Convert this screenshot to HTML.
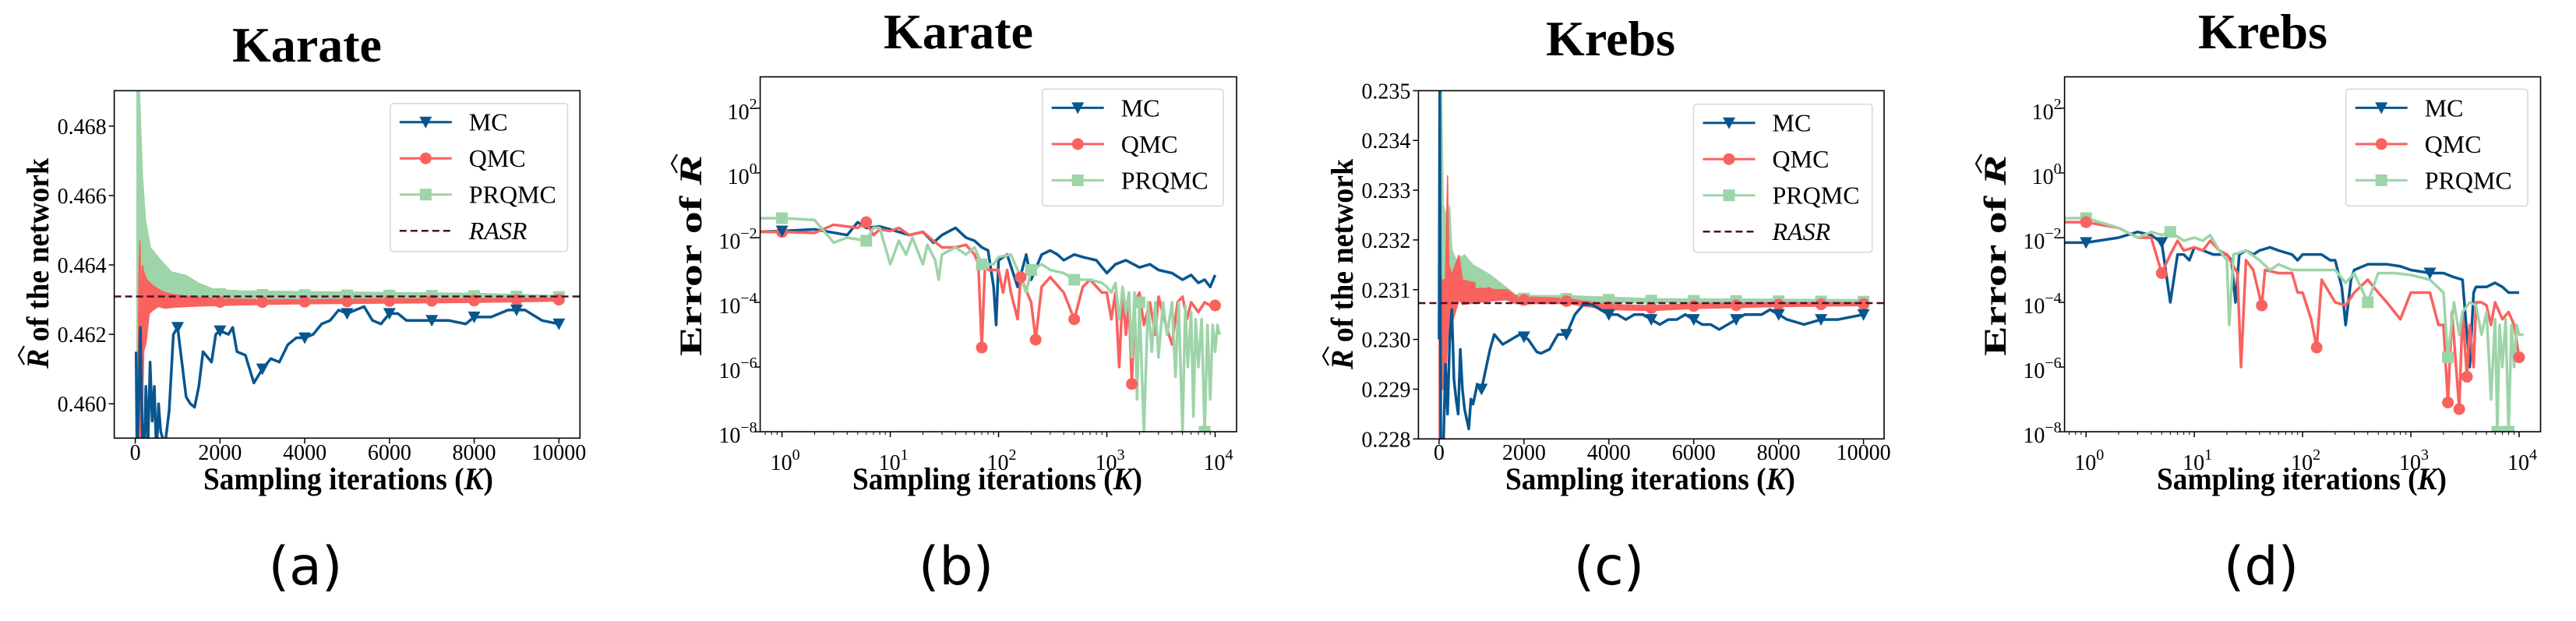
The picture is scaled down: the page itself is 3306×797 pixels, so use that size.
<!DOCTYPE html>
<html><head><meta charset="utf-8">
<style>
html,body{margin:0;padding:0;background:#fff;}
svg{display:block;}
text{font-family:"Liberation Serif",serif;fill:#000;}
.sub{font-family:"DejaVu Sans","Liberation Sans",sans-serif;}
</style></head>
<body>
<svg id="fig" width="3306" height="797" viewBox="0 0 3306 797" xmlns="http://www.w3.org/2000/svg"></svg>
<script>
// ---------- Panel (a) Karate, linear ----------
const mcA = [[20,0.4615],[40,0.4585],[80,0.4600],[120,0.4622],[160,0.4595],[200,0.4580],[250,0.4605],[300,0.4588],[350,0.4612],[400,0.4595],[450,0.4605],[500,0.4585],[550,0.4600],[600,0.4592],[700,0.4588],[800,0.4598],[900,0.4620],[1000,0.4622],[1100,0.4612],[1200,0.4602],[1300,0.4600],[1400,0.4599],[1500,0.4605],[1600,0.4615],[1800,0.4612],[1900,0.4620],[2000,0.4621],[2200,0.4620],[2300,0.4622],[2400,0.4615],[2600,0.4614],[2800,0.4606],[3000,0.4610],[3200,0.4613],[3400,0.4612],[3600,0.4617],[3800,0.4619],[4000,0.4619],[4200,0.4620],[4400,0.4623],[4600,0.4624],[4800,0.4627],[5000,0.4626],[5200,0.4627],[5400,0.4628],[5600,0.4624],[5800,0.4623],[6000,0.4626],[6200,0.4626],[6400,0.4624],[6600,0.4624],[7000,0.4624],[7400,0.4624],[7800,0.4623],[8000,0.4625],[8400,0.4625],[8800,0.4627],[9200,0.4627],[9600,0.4624],[10000,0.4623]];
const qmcBandA = [[60,0.4590,0.4600],[90,0.4590,0.4640],[110,0.4590,0.4647],[140,0.4590,0.4630],[170,0.4594,0.4640],[200,0.4615,0.4638],[260,0.4618,0.4636],[330,0.4626,0.4635],[420,0.4627,0.4634],[550,0.4628,0.4633],[700,0.46275,0.4632],[900,0.46278,0.46315],[1200,0.4628,0.4631],[1600,0.46282,0.46305],[2200,0.46284,0.46302],[3000,0.46286,0.46300],[4000,0.46288,0.46300],[6000,0.46290,0.46302],[8000,0.46292,0.46303],[10000,0.46296,0.46304]];
const prqmcBandA = [[40,0.4590,0.4690],[100,0.4625,0.4690],[130,0.4628,0.4679],[170,0.4630,0.46656],[240,0.4632,0.4653],[360,0.4632,0.4645],[600,0.4631,0.46414],[850,0.46305,0.4638],[1200,0.46305,0.4637],[1500,0.46305,0.46347],[1850,0.46303,0.4633],[2500,0.46303,0.46325],[5000,0.46303,0.46322],[8000,0.46303,0.46318],[10000,0.46303,0.46312]];
const rasrA = 0.46309;
const yTicksA = [0.460,0.462,0.464,0.466,0.468];
const yTickLabelsA = ["0.460","0.462","0.464","0.466","0.468"];

// ---------- Panel (c) Krebs, linear ----------
const mcC = [[0,0.2300],[15,0.2350],[40,0.2280],[100,0.2278],[150,0.2295],[200,0.2285],[250,0.2300],[300,0.2306],[350,0.2292],[400,0.2288],[450,0.2285],[500,0.2298],[550,0.2290],[600,0.2286],[650,0.2284],[700,0.2282],[750,0.2288],[800,0.2287],[900,0.2291],[1000,0.2290],[1100,0.2294],[1200,0.2298],[1300,0.2301],[1400,0.2300],[1500,0.2299],[1700,0.2300],[1900,0.2301],[2100,0.2300],[2300,0.22975],[2400,0.22972],[2600,0.2298],[2800,0.2301],[3000,0.2301],[3200,0.2305],[3400,0.2307],[3600,0.2307],[3800,0.2306],[4000,0.2305],[4200,0.2305],[4400,0.2304],[4600,0.2305],[4800,0.2305],[5000,0.2304],[5200,0.2303],[5400,0.2304],[5600,0.2304],[5800,0.2305],[6000,0.2304],[6200,0.2303],[6400,0.2303],[6600,0.2302],[6800,0.2303],[7000,0.2304],[7200,0.2305],[7600,0.2305],[7800,0.2306],[8000,0.2305],[8200,0.2304],[8600,0.2303],[9000,0.2304],[9400,0.2304],[10000,0.2305]];
const qmcBandC = [[0,0.2280,0.2300],[40,0.2280,0.2300],[60,0.2290,0.2312],[150,0.2290,0.2312],[200,0.2300,0.2333],[230,0.2300,0.2315],[300,0.2303,0.2313],[470,0.2308,0.2317],[550,0.2307,0.2312],[1000,0.23075,0.2311],[1300,0.23078,0.2310],[1600,0.2308,0.2310],[1800,0.23072,0.23088],[2200,0.23072,0.23085],[3000,0.23072,0.23082],[4000,0.2306,0.2307],[5000,0.23058,0.23068],[6000,0.23062,0.23072],[8000,0.23066,0.23074],[10000,0.23068,0.23074]];
const prqmcBandC = [[20,0.2300,0.2350],[60,0.2300,0.2350],[100,0.2307,0.2327],[200,0.2308,0.2324],[250,0.2308,0.2327],[300,0.2308,0.2318],[400,0.2308,0.2316],[600,0.2309,0.2317],[800,0.2309,0.2315],[1000,0.2309,0.2314],[1200,0.2309,0.2313],[1500,0.2308,0.2311],[1800,0.23075,0.2309],[2200,0.23075,0.23088],[3000,0.23075,0.23088],[5000,0.23074,0.23082],[10000,0.23072,0.2308]];
const rasrC = 0.23073;
const yTicksC = [0.228,0.229,0.230,0.231,0.232,0.233,0.234,0.235];
const yTickLabelsC = ["0.228","0.229","0.230","0.231","0.232","0.233","0.234","0.235"];

const xTicksLin = [0,2000,4000,6000,8000,10000];
const xTickLabelsLin = ["0","2000","4000","6000","8000","10000"];

// ---------- Panel (b) Karate error, log-log ----------
const mcB = [[0.6,0.015],[1,0.016],[2,0.018],[4,0.012],[5,0.03],[6,0.02],[8,0.022],[10,0.018],[15,0.012],[20,0.015],[25,0.007],[30,0.012],[40,0.02],[50,0.01],[60,0.008],[70,0.005],[80,0.004],[90,0.0003],[95,0.00002],[100,0.002],[120,0.003],[150,0.0003],[180,0.003],[200,0.0005],[250,0.003],[300,0.004],[350,0.003],[400,0.002],[500,0.003],[600,0.0025],[800,0.002],[1000,0.0008],[1200,0.0015],[1500,0.002],[2000,0.0012],[2500,0.0015],[3000,0.001],[4000,0.0008],[5000,0.0005],[6000,0.0007],[7000,0.0004],[8000,0.0005],[9000,0.0003],[10000,0.0007]];
const qmcB = [[0.6,0.015],[1,0.015],[2,0.014],[3,0.025],[5,0.02],[6,0.03],[7,0.012],[8,0.018],[10,0.016],[12,0.02],[15,0.012],[20,0.015],[25,0.008],[30,0.005],[40,0.005],[50,0.006],[60,0.003],[65,0.0015],[70,0.000004],[75,0.0015],[80,0.001],[100,0.001],[110,0.0002],[120,0.001],[130,0.0002],[150,0.00003],[160,0.0006],[200,0.0001],[220,0.000007],[250,0.0003],[300,0.0006],[400,0.0002],[500,0.00003],[600,0.0003],[700,0.0005],[900,0.0002],[1000,0.0002],[1100,0.00003],[1200,0.0002],[1300,0.000001],[1400,0.0002],[1500,0.00001],[1600,0.0001],[1700,0.0000003],[1800,0.0001],[2000,0.0002],[2200,0.00002],[2500,0.0001],[2800,0.00001],[3000,0.00015],[3500,0.00002],[4000,0.000005],[4500,0.0001],[5000,0.00015],[5500,0.00003],[6000,0.0001],[7000,0.00005],[8000,0.0001],[9000,0.00008],[10000,0.00008]];
const prqmcB = [[0.6,0.04],[1,0.04],[2,0.035],[3,0.007],[4,0.01],[6,0.008],[7,0.02],[8,0.02],[9,0.005],[10,0.0015],[12,0.008],[14,0.003],[16,0.01],[20,0.0015],[22,0.006],[26,0.002],[28,0.0005],[30,0.003],[40,0.005],[50,0.003],[60,0.005],[70,0.0015],[90,0.0015],[100,0.0025],[130,0.003],[150,0.001],[180,0.0002],[200,0.001],[250,0.0015],[300,0.001],[400,0.0008],[500,0.0005],[700,0.0005],[900,0.0004],[1000,0.0003],[1100,0.0002],[1200,0.0004],[1300,0.00003],[1400,0.0003],[1500,0.00005],[1600,0.0002],[1700,0.000002],[1800,0.0002],[1900,0.0000001],[2000,0.0001],[2200,0.00000001],[2400,0.0001],[2600,0.000003],[2800,0.0001],[3000,0.000002],[3300,0.0001],[3600,0.00001],[4000,0.0001],[4300,0.0000005],[4600,0.0001],[5000,0.00000001],[5300,0.00008],[5600,0.000001],[6000,0.00005],[6300,0.00000003],[6600,0.00003],[7000,0.000001],[7500,0.00003],[8000,0.00000001],[8500,0.00002],[9000,0.0000001],[9500,0.00002],[10000,0.000003],[10500,0.00002],[11000,0.00001]];
const mcMarksB = [1];
const qmcMarksB = [1,6,70,160,220,500,1700,10000];
const prqmcMarksB = [1,6,70,200,500,2000,8000];

// ---------- Panel (d) Krebs error, log-log ----------
const mcD = [[0.6,0.007],[1,0.007],[2,0.01],[3,0.015],[4,0.012],[5,0.007],[6,0.0001],[7,0.003],[8,0.003],[9,0.002],[10,0.005],[12,0.004],[15,0.003],[20,0.003],[22,0.002],[24,0.0001],[26,0.003],[30,0.004],[35,0.003],[40,0.004],[50,0.005],[60,0.004],[80,0.003],[90,0.002],[100,0.003],[120,0.003],[150,0.003],[180,0.002],[200,0.002],[230,0.0003],[250,0.00002],[280,0.0005],[300,0.001],[400,0.0015],[500,0.0015],[600,0.0015],[800,0.0013],[1000,0.001],[1500,0.0008],[2000,0.0008],[2500,0.0006],[3000,0.0005],[3300,0.00001],[3500,0.000001],[3800,0.0002],[4000,0.0003],[5000,0.0003],[6000,0.0004],[7000,0.0003],[8000,0.0002],[10000,0.0002]];
const qmcD = [[0.6,0.03],[1,0.03],[2,0.02],[3,0.01],[4,0.01],[5,0.0008],[6,0.003],[7,0.008],[8,0.004],[10,0.005],[12,0.004],[14,0.008],[17,0.004],[20,0.003],[25,0.0008],[27,0.000001],[30,0.002],[35,0.001],[42,0.00008],[45,0.001],[60,0.0008],[80,0.0008],[90,0.0002],[100,0.0002],[120,0.00003],[135,0.000004],[150,0.0005],[200,0.0001],[250,0.00008],[300,0.0002],[400,0.0005],[500,0.0002],[600,0.0001],[800,0.00003],[1000,0.0002],[1500,0.0002],[1800,0.00002],[2000,0.00002],[2200,0.00000008],[2400,0.00005],[2800,0.00000005],[3000,0.00005],[3300,0.0000005],[3500,0.00002],[3800,0.000001],[4000,0.0001],[4500,0.0001],[5000,0.00008],[5500,0.00002],[6000,0.0001],[7000,0.00003],[8000,0.00005],[9000,0.00002],[10000,0.000002]];
const prqmcD = [[0.6,0.04],[1,0.04],[2,0.02],[3,0.01],[4,0.015],[5,0.012],[6,0.015],[8,0.008],[10,0.01],[12,0.008],[14,0.012],[17,0.004],[20,0.002],[21,0.00002],[23,0.003],[30,0.004],[40,0.002],[50,0.001],[60,0.0015],[80,0.001],[100,0.001],[150,0.001],[200,0.001],[250,0.0004],[300,0.0008],[400,0.0001],[500,0.0008],[700,0.0008],[1000,0.0007],[1500,0.0005],[2000,0.0002],[2200,0.000002],[2500,0.0001],[2800,0.00001],[3000,0.00005],[3500,0.0001],[4000,0.00008],[4500,0.00001],[5000,0.00005],[5500,0.0000001],[6000,0.00003],[6300,0.00000001],[6600,0.00002],[7000,0.000001],[7500,0.00003],[8000,0.00000001],[8500,0.00002],[9000,0.000001],[9500,0.00002],[10000,0.00001],[11000,0.00001]];
const mcMarksD = [1,5,1500];
const qmcMarksD = [1,5,42,135,2200,2800,3300,10000];
const prqmcMarksD = [1,6,400,2200,6300,8000];

const yTickExpLog = [-8,-6,-4,-2,0,2];
const xTickExpLog = [0,1,2,3,4];

const C_MC="#08568f", C_QMC="#f9625e", C_PR="#9dd4a8", C_RASR="#4b1130";
const NS="http://www.w3.org/2000/svg";
const svg=document.getElementById('fig');
function el(tag,attrs,parent){const e=document.createElementNS(NS,tag);for(const k in attrs)e.setAttribute(k,attrs[k]);(parent||svg).appendChild(e);return e;}

let clipId=0;
function makeAxes(cfg){
  const g=el('g',{});
  
  
  const {L,R,T,B}=cfg;
  const sx = cfg.logx ? v=>L+(Math.log10(v)-cfg.x0)/(cfg.x1-cfg.x0)*(R-L) : v=>L+(v-cfg.x0)/(cfg.x1-cfg.x0)*(R-L);
  const sy = cfg.logy ? v=>B-(Math.log10(v)-cfg.y0)/(cfg.y1-cfg.y0)*(B-T) : v=>B-(v-cfg.y0)/(cfg.y1-cfg.y0)*(B-T);
  const id='clip'+(clipId++);
  const defs=el('defs',{},g);
  const cp=el('clipPath',{id:id},defs);
  el('rect',{x:L,y:T,width:R-L,height:B-T},cp);
  const plot=el('g',{'clip-path':'url(#'+id+')'},g);
  
  
  return {g,plot,sx,sy};
}

function drawLine(parent,pts,sx,sy,color,w,name){
  const d=pts.map((p,i)=>(i?'L':'M')+sx(p[0]).toFixed(2)+' '+sy(p[1]).toFixed(2)).join(' ');
  const p=el('path',{d:d,fill:'none',stroke:color,'stroke-width':w,'stroke-linejoin':'round'},parent);
  
  
}
function drawBand(parent,band,sx,sy,color,name){
  let d='M'+band.map(b=>sx(b[0]).toFixed(2)+' '+sy(b[2]).toFixed(2)).join(' L');
  d+=' L'+band.slice().reverse().map(b=>sx(b[0]).toFixed(2)+' '+sy(b[1]).toFixed(2)).join(' L')+' Z';
  const p=el('path',{d:d,fill:color,stroke:color,'stroke-width':1.5},parent);
  
  
}
function marker(parent,type,x,y,color,name){
  let m;
  if(type==='tri') m=el('path',{d:`M${x-8} ${y-7} L${x+8} ${y-7} L${x} ${y+8} Z`,fill:color},parent);
  else if(type==='circ') m=el('circle',{cx:x,cy:y,r:7.5,fill:color},parent);
  else m=el('rect',{x:x-7.5,y:y-7.5,width:15,height:15,fill:color},parent);
  
  
}
function interp(pts,x){
  for(let i=1;i<pts.length;i++){ if(x<=pts[i][0]){const a=pts[i-1],b=pts[i];const t=(x-a[0])/(b[0]-a[0]);return a[1]+t*(b[1]-a[1]);} }
  return pts[pts.length-1][1];
}
function interpLog(pts,x){
  for(let i=0;i<pts.length;i++){ if(Math.abs(pts[i][0]-x)<1e-9) return pts[i][1]; }
  for(let i=1;i<pts.length;i++){ if(x<=pts[i][0]){const a=pts[i-1],b=pts[i];const t=(Math.log10(x)-Math.log10(a[0]))/(Math.log10(b[0])-Math.log10(a[0]));return Math.pow(10,Math.log10(a[1])+t*(Math.log10(b[1])-Math.log10(a[1])));} }
  return pts[pts.length-1][1];
}

function frame(g,cfg){
  const r=el('rect',{x:cfg.L,y:cfg.T,width:cfg.R-cfg.L,height:cfg.B-cfg.T,fill:'none',stroke:'#000','stroke-width':1.6},g);
  
  
}
function texts(g,cfg){
  const t=el('text',{x:cfg.titleX,y:cfg.titleY,'text-anchor':'middle','font-size':64,'font-weight':'bold'},g);
  t.textContent=cfg.title;
  
  
  const xl=el('text',{x:cfg.xlabX,y:628,'text-anchor':'middle','font-size':40,'font-weight':'bold',textLength:372,lengthAdjust:'spacingAndGlyphs'},g);
  xl.innerHTML='Sampling iterations (<tspan font-style="italic">K</tspan>)';
  
  
  const yg=el('g',{transform:`translate(${cfg.ylabX},${cfg.ylabY}) rotate(-90)`},g);
  
  
  const len = cfg.logy ? 258 : 270;
  const yl=el('text',{x:0,y:0,'text-anchor':'middle','font-size':40,'font-weight':'bold',textLength:len,lengthAdjust:'spacingAndGlyphs'},yg);
  let hx;
  if(cfg.logy){ yl.innerHTML='Error of <tspan font-style="italic">R</tspan>'; hx=len/2-12; }
  else { yl.innerHTML='<tspan font-style="italic">R</tspan> of the network'; hx=-len/2+16; }
  el('path',{d:`M${hx-11} -31 L${hx+1} -38 L${hx+13} -31`,fill:'none',stroke:'#000','stroke-width':2.2},yg);
  const sub=el('text',{x:cfg.subX,y:750,'text-anchor':'middle','font-size':68,class:'sub'},g);
  sub.textContent=cfg.sub;
  
  
}
function legend(g,x,y,w,h,entries){
  const lg=el('g',{},g);
  
  
  el('rect',{x:x,y:y,width:w,height:h,rx:4,fill:'#fff','fill-opacity':0.8,stroke:'#d6d6d6','stroke-width':1.5},lg);
  entries.forEach((e,i)=>{
    const ey=y+24+i*46.5;
    const eg=el('g',{},lg);
    
    
    el('line',{x1:x+12,y1:ey,x2:x+79,y2:ey,stroke:e.color,'stroke-width':e.dash?2.5:3,'stroke-dasharray':e.dash?'9,5':'none'},eg);
    if(e.m) marker(eg,e.m,x+45.5,ey,e.color,'legend-marker');
    const t=el('text',{x:x+101,y:ey+11,'font-size':32,'font-style':e.dash?'italic':'normal'},eg);
    t.textContent=e.label;
  });
}

function linearPanel(cfg,mc,qmcBand,prBand,rasr,yTicks,yLabels){
  const {g,plot,sx,sy}=makeAxes(cfg);
  drawBand(plot,prBand,sx,sy,C_PR,'prqmc-band');
  drawBand(plot,qmcBand,sx,sy,C_QMC,'qmc-band');
  drawLine(plot,mc,sx,sy,C_MC,3.5,'mc-line');
  for(let k=1000;k<=10000;k+=1000){
    marker(plot,'sq',sx(k),sy(interp(prBand.map(b=>[b[0],(b[1]+b[2])/2]),k)),C_PR,'prqmc-marker');
    marker(plot,'circ',sx(k),sy(interp(qmcBand.map(b=>[b[0],(b[1]+b[2])/2]),k)),C_QMC,'qmc-marker');
    marker(plot,'tri',sx(k),sy(interp(mc,k)),C_MC,'mc-marker');
  }
  const rl=el('line',{x1:cfg.L,x2:cfg.R,y1:sy(rasr),y2:sy(rasr),stroke:C_RASR,'stroke-width':2.5,'stroke-dasharray':'9,5'},plot);
  
  
  frame(g,cfg);
  xTicksLin.forEach((v,i)=>{
    const x=sx(v);
    el('line',{x1:x,x2:x,y1:cfg.B,y2:cfg.B+7,stroke:'#000','stroke-width':1.5},g);
    const t=el('text',{x:x,y:590,'text-anchor':'middle','font-size':28},g);
    t.textContent=xTickLabelsLin[i];
    
    
  });
  yTicks.forEach((v,i)=>{
    const y=sy(v);
    el('line',{x1:cfg.L-7,x2:cfg.L,y1:y,y2:y,stroke:'#000','stroke-width':1.5},g);
    const t=el('text',{x:cfg.L-10,y:y+10,'text-anchor':'end','font-size':28},g);
    t.textContent=yLabels[i];
    
    
  });
  legend(g,cfg.lgX,cfg.lgY,cfg.lgW,190,[{label:'MC',color:C_MC,m:'tri'},{label:'QMC',color:C_QMC,m:'circ'},{label:'PRQMC',color:C_PR,m:'sq'},{label:'RASR',color:C_RASR,dash:true}]);
  texts(g,cfg);
}

function logPanel(cfg,mc,qmc,pr,mcM,qmcM,prM){
  const {g,plot,sx,sy}=makeAxes(cfg);
  drawLine(plot,mc,sx,sy,C_MC,3.5,'mc-line');
  drawLine(plot,qmc,sx,sy,C_QMC,3.5,'qmc-line');
  drawLine(plot,pr,sx,sy,C_PR,3.5,'prqmc-line');
  prM.forEach(x=>marker(plot,'sq',sx(x),sy(interpLog(pr,x)),C_PR,'prqmc-marker'));
  qmcM.forEach(x=>marker(plot,'circ',sx(x),sy(interpLog(qmc,x)),C_QMC,'qmc-marker'));
  mcM.forEach(x=>marker(plot,'tri',sx(x),sy(interpLog(mc,x)),C_MC,'mc-marker'));
  frame(g,cfg);
  for(let e=-1;e<=4;e++){
    for(let m=2;m<=9;m++){
      const v=m*Math.pow(10,e); const lv=Math.log10(v);
      if(lv<cfg.x0||lv>cfg.x1) continue;
      const x=sx(v);
      el('line',{x1:x,x2:x,y1:cfg.B,y2:cfg.B+4,stroke:'#000','stroke-width':1},g);
    }
  }
  xTickExpLog.forEach(e=>{
    const x=sx(Math.pow(10,e));
    el('line',{x1:x,x2:x,y1:cfg.B,y2:cfg.B+7,stroke:'#000','stroke-width':1.5},g);
    const t=el('text',{x:x+4,y:603,'text-anchor':'middle','font-size':28},g);
    t.innerHTML='10<tspan dy="-13" font-size="20">'+e+'</tspan>';
    
    
  });
  yTickExpLog.forEach(e=>{
    const y=sy(Math.pow(10,e));
    el('line',{x1:cfg.L-7,x2:cfg.L,y1:y,y2:y,stroke:'#000','stroke-width':1.5},g);
    const t=el('text',{x:cfg.L-4,y:y+14,'text-anchor':'end','font-size':28},g);
    t.innerHTML='10<tspan dy="-13" font-size="20">'+(e<0?'−'+(-e):e)+'</tspan>';
    
    
  });
  legend(g,cfg.lgX,cfg.lgY,cfg.lgW,150,[{label:'MC',color:C_MC,m:'tri'},{label:'QMC',color:C_QMC,m:'circ'},{label:'PRQMC',color:C_PR,m:'sq'}]);
  texts(g,cfg);
}

linearPanel({name:'panel-a-karate-estimate',L:146.6,R:744.3,T:116.4,B:562.3,x0:-496.6,x1:10496.6,y0:0.45901,y1:0.46902,
  title:'Karate',titleX:394,titleY:79,xlabX:447,ylabX:62,ylabY:338,sub:'(a)',subX:392,lgX:500.8,lgY:132.7,lgW:227.6},
  mcA,qmcBandA,prqmcBandA,rasrA,yTicksA,yTickLabelsA);
logPanel({name:'panel-b-karate-error',L:975.6,R:1587,T:98.6,B:554.1,logx:true,logy:true,x0:-0.2015,x1:4.198,y0:-8,y1:2.97,
  title:'Karate',titleX:1230,titleY:62,xlabX:1280,ylabX:900,ylabY:328,sub:'(b)',subX:1227,lgX:1337.7,lgY:114.4,lgW:232.3},
  mcB,qmcB,prqmcB,mcMarksB,qmcMarksB,prqmcMarksB);
linearPanel({name:'panel-c-krebs-estimate',L:1820.4,R:2418,T:116.4,B:563.3,x0:-486.5,x1:10484.7,y0:0.228,y1:0.235,
  title:'Krebs',titleX:2067,titleY:71,xlabX:2118,ylabX:1736,ylabY:339,sub:'(c)',subX:2065,lgX:2173.5,lgY:133.7,lgW:229.2},
  mcC,qmcBandC,prqmcBandC,rasrC,yTicksC,yTickLabelsC);
logPanel({name:'panel-d-krebs-error',L:2649.6,R:3260.5,T:98.6,B:554.1,logx:true,logy:true,x0:-0.1986,x1:4.198,y0:-8,y1:2.97,
  title:'Krebs',titleX:2904,titleY:62,xlabX:2954,ylabX:2574,ylabY:328,sub:'(d)',subX:2902,lgX:3010.7,lgY:114.4,lgW:233.3},
  mcD,qmcD,prqmcD,mcMarksD,qmcMarksD,prqmcMarksD);
</script>
</body></html>
